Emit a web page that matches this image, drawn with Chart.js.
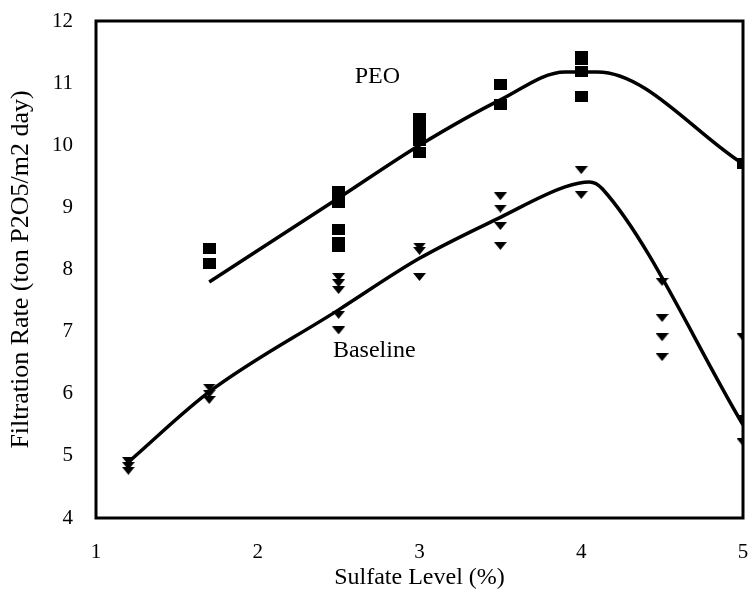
<!DOCTYPE html>
<html>
<head>
<meta charset="utf-8">
<script src="https://cdn.jsdelivr.net/npm/chart.js@4/dist/chart.umd.min.js"></script>
<style>
  html, body { margin: 0; padding: 0; background: #fff; }
  #wrap { width: 756px; height: 595px; }
</style>
</head>
<body>
<div id="wrap"><canvas id="grafico" width="756" height="595"></canvas></div>
<script>
// Mediciones con PEO
const peoSulfato = [1.7, 1.7, 2.5, 2.5, 2.5, 2.5, 2.5, 2.5, 3, 3, 3, 3, 3, 3.5, 3.5, 4, 4, 4, 4, 5];
const peoFiltracion = [8.33, 8.1, 9.25, 9.17, 9.08, 8.65, 8.43, 8.37, 10.43, 10.25, 10.17, 10.07, 9.88, 10.97, 10.65, 11.43, 11.38, 11.18, 10.78, 9.7];

// Mediciones sin aditivo
const baseSulfato = [1.2, 1.2, 1.2, 1.7, 1.7, 1.7, 2.5, 2.5, 2.5, 2.5, 2.5, 3, 3, 3, 3.5, 3.5, 3.5, 3.5, 4, 4, 4.5, 4.5, 4.5, 4.5, 5, 5, 5];
const baseFiltracion = [4.92, 4.84, 4.76, 6.1, 6.0, 5.9, 7.88, 7.78, 7.67, 7.27, 7.02, 8.37, 8.3, 7.88, 9.18, 8.98, 8.7, 8.38, 9.6, 9.2, 7.8, 7.22, 6.91, 6.59, 6.91, 5.6, 5.22];

// Curvas de tendencia
const peoCurvaX = [1.7, 2.5, 3, 3.5, 3.9, 4.1, 5];
const peoCurvaY = [7.8, 9.15, 10.0, 10.73, 11.18, 11.18, 9.7];
const baseCurvaX = [1.2, 1.7, 2.5, 3, 3.5, 3.9, 4.05, 4.13, 5];
const baseCurvaY = [4.9, 6.03, 7.35, 8.18, 8.84, 9.33, 9.41, 9.3, 5.5];

const ejeX = [1, 5];
const ejeY = [4, 12];

const fuente = "'Liberation Serif', 'Times New Roman', serif";

const puntos = (xs, ys) => xs.map((x, i) => ({ x: x, y: ys[i] }));

// Marcadores: cuadrado y triángulo hacia abajo
function cuadrado(w, h) {
    const c = document.createElement('canvas');
    c.width = w; c.height = h;
    const g = c.getContext('2d');
    g.fillStyle = '#000';
    g.fillRect(0, 0, w, h);
    return c;
}
function trianguloAbajo(w, h) {
    const c = document.createElement('canvas');
    c.width = w; c.height = h;
    const g = c.getContext('2d');
    g.fillStyle = '#000';
    g.beginPath();
    g.moveTo(0, 0);
    g.lineTo(w, 0);
    g.lineTo(w / 2, h);
    g.closePath();
    g.fill();
    return c;
}

// Marco completo y etiquetas de las series
const marco = {
    id: 'marco',
    afterDatasetsDraw(chart) {
        const { ctx, chartArea: a, scales } = chart;
        ctx.save();
        ctx.strokeStyle = '#000';
        ctx.lineWidth = 3;
        ctx.strokeRect(a.left, a.top, a.right - a.left, a.bottom - a.top);
        ctx.fillStyle = '#000';
        ctx.font = "24px " + fuente;
        ctx.textAlign = 'center';
        ctx.textBaseline = 'middle';
        ctx.fillText('PEO', scales.x.getPixelForValue(2.74), scales.y.getPixelForValue(11.1));
        ctx.fillText('Baseline', scales.x.getPixelForValue(2.72), scales.y.getPixelForValue(6.7));
        ctx.restore();
    }
};

const ctx = document.getElementById('grafico').getContext('2d');
new Chart(ctx, {
    type: 'scatter',
    data: {
        datasets: [
            {
                label: 'PEO',
                data: puntos(peoSulfato, peoFiltracion),
                pointStyle: cuadrado(13, 11),
                pointRadius: 7
            },
            {
                label: 'Baseline',
                data: puntos(baseSulfato, baseFiltracion),
                pointStyle: trianguloAbajo(13, 8),
                pointRadius: 7
            },
            {
                label: 'Tendencia PEO',
                type: 'line',
                data: puntos(peoCurvaX, peoCurvaY),
                borderColor: '#000',
                borderWidth: 3.5,
                pointRadius: 0,
                cubicInterpolationMode: 'monotone',
                fill: false
            },
            {
                label: 'Tendencia Baseline',
                type: 'line',
                data: puntos(baseCurvaX, baseCurvaY),
                borderColor: '#000',
                borderWidth: 3.5,
                pointRadius: 0,
                cubicInterpolationMode: 'monotone',
                fill: false
            }
        ]
    },
    options: {
        responsive: false,
        animation: false,
        layout: { padding: { left: 0, right: 13, top: 21, bottom: 0 } },
        plugins: {
            legend: { display: false },
            tooltip: { enabled: false }
        },
        scales: {
            x: {
                type: 'linear',
                min: ejeX[0],
                max: ejeX[1],
                afterFit: s => { s.height = 77; s.paddingLeft = 0; s.paddingRight = 0; },
                grid: { display: false, drawTicks: false },
                border: { display: false },
                ticks: {
                    stepSize: 1,
                    color: '#000',
                    padding: 22,
                    font: { family: fuente, size: 21 }
                },
                title: {
                    display: true,
                    text: 'Sulfate Level (%)',
                    color: '#000',
                    padding: { top: 0, bottom: 3 },
                    font: { family: fuente, size: 24 }
                }
            },
            y: {
                type: 'linear',
                min: ejeY[0],
                max: ejeY[1],
                afterFit: s => { s.width = 96; s.paddingTop = 0; s.paddingBottom = 0; },
                grid: { display: false, drawTicks: false },
                border: { display: false },
                ticks: {
                    stepSize: 1,
                    color: '#000',
                    padding: 23,
                    font: { family: fuente, size: 21 }
                },
                title: {
                    display: true,
                    text: 'Filtration Rate (ton P2O5/m2 day)',
                    color: '#000',
                    padding: { top: 6, bottom: 0 },
                    font: { family: fuente, size: 26 }
                }
            }
        }
    },
    plugins: [marco]
});
</script>
</body>
</html>
